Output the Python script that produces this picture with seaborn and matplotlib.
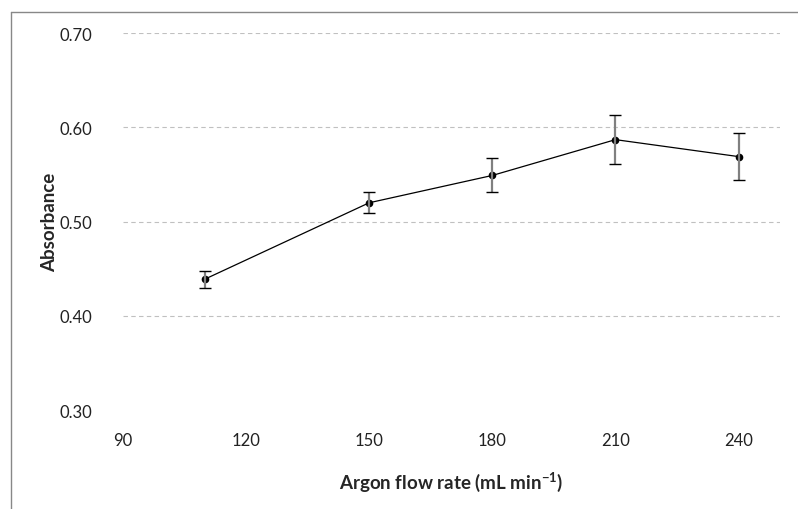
import matplotlib
matplotlib.use("Agg")
import matplotlib.pyplot as plt
from matplotlib.lines import Line2D
import seaborn as sns
import pandas as pd

# data
flow_rate = [110, 150, 180, 210, 240]
absorbance = [0.439, 0.520, 0.549, 0.587, 0.569]
abs_err = [0.009, 0.011, 0.018, 0.026, 0.025]

x_ticks = [90, 120, 150, 180, 210, 240]
y_ticks = [0.30, 0.40, 0.50, 0.60, 0.70]

sns.set_style("white")
plt.rcParams['font.family'] = ['Lato', 'DejaVu Sans']

df = pd.DataFrame({"flow": flow_rate, "abs": absorbance})

fig = plt.figure(figsize=(7.98, 5.10), dpi=100)
ax = fig.add_axes([0.154, 0.194, 0.823, 0.739])

for y in y_ticks[1:]:
    ax.axhline(y, color='#c0c0c0', lw=0.8, ls=(0, (4, 3)), zorder=0)

sns.lineplot(data=df, x="flow", y="abs", color='black', lw=0.9,
             marker='o', markersize=5.5, markeredgewidth=0, ax=ax)
_, caps, bars = ax.errorbar(flow_rate, absorbance, yerr=abs_err, fmt='none',
                            ecolor='#808080', elinewidth=1.6, capsize=4,
                            capthick=1.0, zorder=3)
for c in caps:
    c.set_markeredgecolor('black')

ax.set_xlim(90, 250)
ax.set_ylim(0.30, 0.70)
ax.set_xticks(x_ticks)
ax.set_yticks(y_ticks)
ax.set_yticklabels([f"{v:.2f}" for v in y_ticks])
ax.tick_params(axis='both', length=0, labelsize=12, colors='#222222')
ax.tick_params(axis='y', pad=22)
ax.tick_params(axis='x', pad=16)
for s in ax.spines.values():
    s.set_visible(False)

ax.set_xlabel("Argon flow rate (mL min$^{\\mathdefault{-1}}$)", fontsize=13.5,
              fontweight='bold', labelpad=15)
ax.set_ylabel("Absorbance", fontsize=13.5, fontweight='bold', labelpad=1)

# partial frame of the original figure
fig.add_artist(Line2D([11 / 798, 11 / 798], [0, 1 - 13 / 510],
                      transform=fig.transFigure, color='#888888', lw=1))
fig.add_artist(Line2D([11 / 798, 1], [1 - 13 / 510, 1 - 13 / 510],
                      transform=fig.transFigure, color='#888888', lw=1))

fig.savefig("out.png", dpi=100)
